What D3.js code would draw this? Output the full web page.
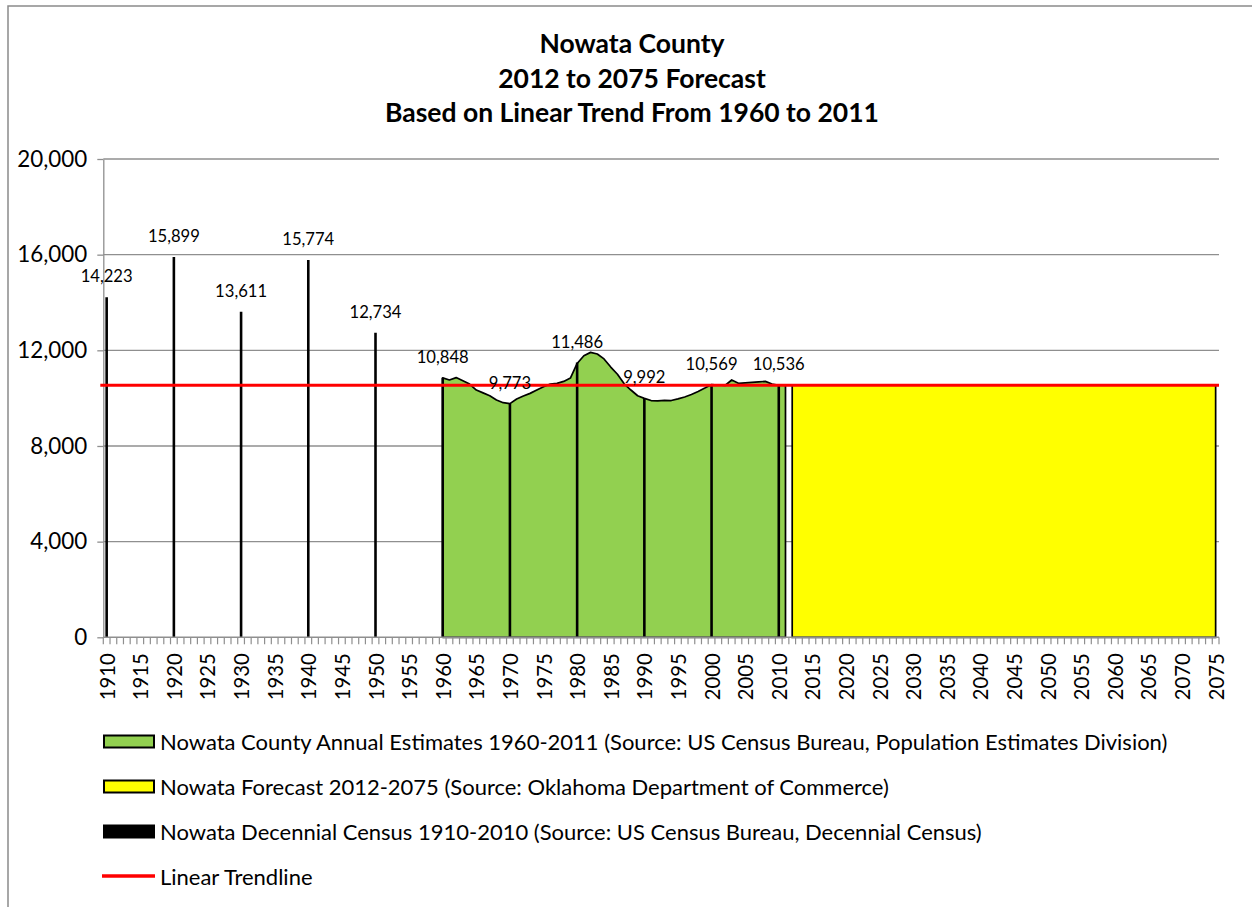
<!DOCTYPE html>
<html>
<head>
<meta charset="utf-8">
<script src="https://cdn.jsdelivr.net/npm/d3@7"></script>
<style>
  html, body { margin: 0; padding: 0; background: #fff; }
  svg { display: block; }
  text { font-family: Lato, "Open Sans", sans-serif; fill: #000; }
</style>
</head>
<body>
<svg id="chart" width="1252" height="907"></svg>
<script>
// ---- data -------------------------------------------------------------
const titleLines = [
  "Nowata County",
  "2012 to 2075 Forecast",
  "Based on Linear Trend From 1960 to 2011"
];

const firstYear = 1910;
const lastYear = 2075;

// decennial census counts
const censusYears  = [1910, 1920, 1930, 1940, 1950, 1960, 1970, 1980, 1990, 2000, 2010];
const censusValues = [14223, 15899, 13611, 15774, 12734, 10848, 9773, 11486, 9992, 10569, 10536];

// annual estimates 1960-2011
const estimateYears = [
  1960, 1961, 1962, 1963, 1964, 1965, 1966, 1967, 1968, 1969,
  1970, 1971, 1972, 1973, 1974, 1975, 1976, 1977, 1978, 1979,
  1980, 1981, 1982, 1983, 1984, 1985, 1986, 1987, 1988, 1989,
  1990, 1991, 1992, 1993, 1994, 1995, 1996, 1997, 1998, 1999,
  2000, 2001, 2002, 2003, 2004, 2005, 2006, 2007, 2008, 2009,
  2010, 2011
];
const estimateValues = [
  10848, 10760, 10860, 10730, 10590, 10340, 10220, 10100, 9925, 9810,
  9773, 9966, 10090, 10200, 10340, 10480, 10590, 10620, 10700, 10840,
  11450, 11775, 11914, 11845, 11640, 11300, 11000, 10600, 10340, 10100,
  9992, 9900, 9890, 9910, 9900, 9970, 10050, 10150, 10280, 10420,
  10569, 10550, 10530, 10760, 10620, 10640, 10660, 10680, 10700, 10590,
  10536, 10560
];

// forecast 2012-2075
const forecastYears = [
  2012, 2013, 2014, 2015, 2016, 2017, 2018, 2019, 2020, 2021,
  2022, 2023, 2024, 2025, 2026, 2027, 2028, 2029, 2030, 2031,
  2032, 2033, 2034, 2035, 2036, 2037, 2038, 2039, 2040, 2041,
  2042, 2043, 2044, 2045, 2046, 2047, 2048, 2049, 2050, 2051,
  2052, 2053, 2054, 2055, 2056, 2057, 2058, 2059, 2060, 2061,
  2062, 2063, 2064, 2065, 2066, 2067, 2068, 2069, 2070, 2071,
  2072, 2073, 2074, 2075
];
const forecastValues = [
  10540, 10540, 10540, 10540, 10540, 10540, 10540, 10540, 10540, 10540,
  10540, 10540, 10540, 10540, 10540, 10540, 10540, 10540, 10540, 10540,
  10540, 10540, 10540, 10540, 10540, 10540, 10540, 10540, 10540, 10540,
  10540, 10540, 10540, 10540, 10540, 10540, 10540, 10540, 10540, 10540,
  10540, 10540, 10540, 10540, 10540, 10540, 10540, 10540, 10540, 10540,
  10540, 10540, 10540, 10540, 10540, 10540, 10540, 10540, 10540, 10540,
  10540, 10540, 10540, 10540
];

// linear trendline end points
const trendYears  = [1910, 2075];
const trendValues = [10540, 10540];

const yTicks = [0, 4000, 8000, 12000, 16000, 20000];
const xLabelStep = 5;

const legendItems = [
  { key: "est",   label: "Nowata County Annual Estimates 1960-2011 (Source: US Census Bureau, Population Estimates Division)" },
  { key: "fc",    label: "Nowata Forecast 2012-2075 (Source: Oklahoma Department of Commerce)" },
  { key: "cen",   label: "Nowata Decennial Census 1910-2010 (Source: US Census Bureau, Decennial Census)" },
  { key: "trend", label: "Linear Trendline" }
];

// ---- layout -----------------------------------------------------------
const colors = { est: "#92D050", fc: "#FFFF00", cen: "#000000", trend: "#FF0000", grid: "#8f8f8f" };
const plot = { left: 103.3, right: 1219, top: 159, bottom: 637.3 };

const svg = d3.select("#chart");

// font size that makes a string span a given width
function fitSize(str, width, weight) {
  const t = svg.append("text").attr("font-size", 100).attr("font-weight", weight || "normal").text(str);
  const w = t.node().getComputedTextLength();
  t.remove();
  return 100 * width / w;
}

const fsTitle  = fitSize(titleLines[2], 494, "bold");
const fsLegend = fitSize(legendItems[0].label, 1008);
const fsData   = fitSize("15,899", 52);
const fsXLab   = fitSize("1910", 47);
const fsYLab   = fitSize("20,000", 70);

const years = d3.range(firstYear, lastYear + 1);
const x = d3.scaleBand().domain(years).range([plot.left, plot.right]).padding(0);
const xc = yr => x(yr) + x.bandwidth() / 2;
const y = d3.scaleLinear().domain([0, 20000]).range([plot.bottom, plot.top]);

// outer chart frame
svg.append("rect")
  .attr("x", 8).attr("y", 6).attr("width", 1260).attr("height", 920)
  .attr("fill", "none").attr("stroke", "#8a8a8a").attr("stroke-width", 1.5);

// title
svg.append("g").selectAll("text").data(titleLines).join("text")
  .attr("x", 632).attr("y", (d, i) => 53 + i * 34.5)
  .attr("text-anchor", "middle").attr("font-weight", "bold")
  .attr("font-size", fsTitle).text(d => d);

// horizontal gridlines
svg.append("g").selectAll("line").data(yTicks.filter(v => v > 0)).join("line")
  .attr("x1", plot.left).attr("x2", plot.right)
  .attr("y1", d => y(d)).attr("y2", d => y(d))
  .attr("stroke", colors.grid).attr("stroke-width", 1.3);

// y axis
const yAxis = svg.append("g").attr("transform", `translate(${plot.left},0)`)
  .call(d3.axisLeft(y).tickValues(yTicks).tickFormat(d3.format(",")).tickSize(6).tickSizeOuter(0).tickPadding(10));
yAxis.select(".domain").attr("stroke", colors.grid).attr("stroke-width", 1.3);
yAxis.selectAll(".tick line").attr("stroke", colors.grid).attr("stroke-width", 1.3);
yAxis.selectAll(".tick text").attr("font-size", fsYLab).attr("font-family", "Lato, sans-serif").attr("fill", "#000");

// annual estimates area
const area = d3.area().x(d => xc(d[0])).y0(y(0)).y1(d => y(d[1])).curve(d3.curveLinear);
const estData = estimateYears.map((yr, i) => [yr, estimateValues[i]]);
svg.append("path").datum(estData).attr("d", area)
  .attr("fill", colors.est).attr("stroke", "#000").attr("stroke-width", 1.7).attr("stroke-linejoin", "round");

// forecast area
const fcData = forecastYears.map((yr, i) => [yr, forecastValues[i]]);
svg.append("path").datum(fcData).attr("d", area)
  .attr("fill", colors.fc).attr("stroke", "#000").attr("stroke-width", 1.7);

// decennial census bars
svg.append("g").selectAll("line").data(censusYears.map((yr, i) => [yr, censusValues[i]])).join("line")
  .attr("x1", d => xc(d[0])).attr("x2", d => xc(d[0]))
  .attr("y1", y(0)).attr("y2", d => y(d[1]))
  .attr("stroke", colors.cen).attr("stroke-width", 2.6);

// x axis line and tick marks at category boundaries
svg.append("line").attr("x1", plot.left).attr("x2", plot.right)
  .attr("y1", y(0)).attr("y2", y(0)).attr("stroke", colors.grid).attr("stroke-width", 1.5);
svg.append("g").selectAll("line").data(years.concat([lastYear + 1])).join("line")
  .attr("x1", d => d <= lastYear ? x(d) : plot.right)
  .attr("x2", d => d <= lastYear ? x(d) : plot.right)
  .attr("y1", y(0)).attr("y2", y(0) + 7)
  .attr("stroke", colors.grid).attr("stroke-width", 1.2);

// x labels, rotated
svg.append("g").selectAll("text").data(years.filter(yr => (yr - firstYear) % xLabelStep === 0)).join("text")
  .attr("transform", d => `translate(${xc(d)},${y(0) + 16}) rotate(-90)`)
  .attr("text-anchor", "end").attr("dominant-baseline", "central")
  .attr("font-size", fsXLab).text(d => d);

// linear trendline
svg.append("line")
  .attr("x1", plot.left - 3).attr("x2", plot.right)
  .attr("y1", y(trendValues[0])).attr("y2", y(trendValues[1]))
  .attr("stroke", colors.trend).attr("stroke-width", 3.2);

// census data labels
svg.append("g").selectAll("text").data(censusYears.map((yr, i) => [yr, censusValues[i]])).join("text")
  .attr("x", d => xc(d[0])).attr("y", d => y(d[1]) - 15)
  .attr("text-anchor", "middle").attr("font-size", fsData)
  .text(d => d3.format(",")(d[1]));

// legend
const lg = svg.append("g");
const rowY = [741.5, 786.5, 831.5, 876];
legendItems.forEach((it, i) => {
  if (it.key === "trend") {
    lg.append("line").attr("x1", 102).attr("x2", 155).attr("y1", rowY[i]).attr("y2", rowY[i])
      .attr("stroke", colors.trend).attr("stroke-width", 3.5);
  } else {
    lg.append("rect").attr("x", 104).attr("y", rowY[i] - 6).attr("width", 50).attr("height", 12)
      .attr("fill", colors[it.key]).attr("stroke", "#000").attr("stroke-width", 2);
  }
  lg.append("text").attr("x", 160).attr("y", rowY[i]).attr("dominant-baseline", "central")
    .attr("font-size", fsLegend).text(it.label);
});
</script>
</body>
</html>
